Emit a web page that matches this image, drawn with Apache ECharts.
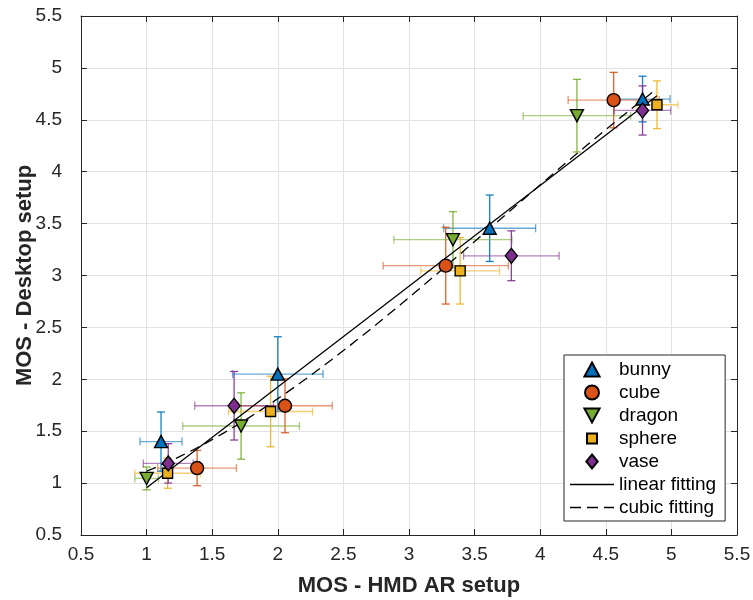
<!DOCTYPE html>
<html>
<head>
<meta charset="utf-8">
<script src="https://cdn.jsdelivr.net/npm/echarts@6/dist/echarts.min.js"></script>
<style>
  html, body { margin: 0; padding: 0; background: #fff; }
  #chart { width: 753px; height: 600px; }
</style>
</head>
<body>
<div id="chart"></div>
<script>
// Mean opinion scores per object: HMD AR setup (x) vs Desktop setup (y), with error half-widths
const objectNames = ['bunny', 'cube', 'dragon', 'sphere', 'vase'];

const bunnyHmd     = [1.11, 2.00, 3.615, 4.78];
const bunnyHmdErr  = [0.16, 0.345, 0.35, 0.21];
const bunnyDesk    = [1.40, 2.05, 3.455, 4.70];
const bunnyDeskErr = [0.285, 0.36, 0.32, 0.22];

const cubeHmd     = [1.385, 2.055, 3.28, 4.56];
const cubeHmdErr  = [0.30, 0.36, 0.477, 0.347];
const cubeDesk    = [1.145, 1.745, 3.095, 4.69];
const cubeDeskErr = [0.17, 0.26, 0.37, 0.267];

const dragonHmd     = [1.00, 1.72, 3.335, 4.28];
const dragonHmdErr  = [0.09, 0.445, 0.45, 0.41];
const dragonDesk    = [1.045, 1.55, 3.345, 4.54];
const dragonDeskErr = [0.11, 0.32, 0.27, 0.35];

const sphereHmd     = [1.16, 1.945, 3.39, 4.89];
const sphereHmdErr  = [0.25, 0.32, 0.30, 0.16];
const sphereDesk    = [1.095, 1.69, 3.045, 4.645];
const sphereDeskErr = [0.145, 0.34, 0.32, 0.23];

const vaseHmd     = [1.165, 1.667, 3.78, 4.78];
const vaseHmdErr  = [0.19, 0.30, 0.364, 0.215];
const vaseDesk    = [1.19, 1.745, 3.19, 4.59];
const vaseDeskErr = [0.19, 0.33, 0.24, 0.237];

const axisTicks = [0.5, 1, 1.5, 2, 2.5, 3, 3.5, 4, 4.5, 5, 5.5];

const groups = [
  { name: 'bunny',  x: bunnyHmd,  xe: bunnyHmdErr,  y: bunnyDesk,  ye: bunnyDeskErr },
  { name: 'cube',   x: cubeHmd,   xe: cubeHmdErr,   y: cubeDesk,   ye: cubeDeskErr },
  { name: 'dragon', x: dragonHmd, xe: dragonHmdErr, y: dragonDesk, ye: dragonDeskErr },
  { name: 'sphere', x: sphereHmd, xe: sphereHmdErr, y: sphereDesk, ye: sphereDeskErr },
  { name: 'vase',   x: vaseHmd,   xe: vaseHmdErr,   y: vaseDesk,   ye: vaseDeskErr }
];

// MATLAB-like default colour order
const colors = {
  bunny: '#0072BD', cube: '#D95319', dragon: '#77AC30', sphere: '#EDB120', vase: '#7E2F8E'
};
const downTriangle = 'path://M0,0L2,0L1,2Z';
const markers = {
  bunny:  { symbol: 'triangle', size: [13, 12] },
  cube:   { symbol: 'circle',   size: 13 },
  dragon: { symbol: downTriangle, size: [13, 12] },
  sphere: { symbol: 'rect',     size: 10 },
  vase:   { symbol: 'diamond',  size: [12, 15] }
};

// Legend glyphs as paths so they keep their proportions inside the wide icon box
const legendIcons = {
  bunny:  'path://M6.5,0L13,12L0,12Z',
  cube:   'circle',
  dragon: 'path://M0,0L13,0L6.5,12Z',
  sphere: 'path://M0,0M14,14M2,2L12,2L12,12L2,12Z',
  vase:   'path://M6.5,0L13,8L6.5,16L0,8Z',
  linear: 'path://M0,0L44,0L44,1.3L0,1.3Z',
  cubic:  'path://M0,0L11,0L11,1.3L0,1.3Z M17,0L28,0L28,1.3L17,1.3Z M34,0L44,0L44,1.3L34,1.3Z'
};

// Least-squares polynomial fit of all points (Desktop score on HMD score)
function polyfit(xs, ys, deg) {
  const n = deg + 1;
  const A = [], b = [];
  for (let i = 0; i < n; i++) {
    A.push(new Array(n).fill(0));
    b.push(0);
  }
  xs.forEach((x, k) => {
    for (let i = 0; i < n; i++) {
      for (let j = 0; j < n; j++) A[i][j] += Math.pow(x, i + j);
      b[i] += ys[k] * Math.pow(x, i);
    }
  });
  for (let c = 0; c < n; c++) {
    let p = c;
    for (let r = c + 1; r < n; r++) if (Math.abs(A[r][c]) > Math.abs(A[p][c])) p = r;
    [A[c], A[p]] = [A[p], A[c]];
    [b[c], b[p]] = [b[p], b[c]];
    for (let r = c + 1; r < n; r++) {
      const f = A[r][c] / A[c][c];
      for (let j = c; j < n; j++) A[r][j] -= f * A[c][j];
      b[r] -= f * b[c];
    }
  }
  const coef = new Array(n).fill(0);
  for (let r = n - 1; r >= 0; r--) {
    let s = b[r];
    for (let j = r + 1; j < n; j++) s -= A[r][j] * coef[j];
    coef[r] = s / A[r][r];
  }
  return coef;
}
function polyval(coef, x) {
  return coef.reduce((acc, c, i) => acc + c * Math.pow(x, i), 0);
}

const allX = [].concat(...groups.map(g => g.x));
const allY = [].concat(...groups.map(g => g.y));
const xMin = Math.min(...allX), xMax = Math.max(...allX);
const linCoef = polyfit(allX, allY, 1);
const cubCoef = polyfit(allX, allY, 3);
const linData = [[xMin, polyval(linCoef, xMin)], [xMax, polyval(linCoef, xMax)]];
const cubData = [];
for (let i = 0; i <= 80; i++) {
  const x = xMin + (xMax - xMin) * i / 80;
  cubData.push([x, polyval(cubCoef, x)]);
}

const axisColor = '#262626';
const font = 'Liberation Sans, Arial, Helvetica, sans-serif';

function errorBarRender(color) {
  return function (params, api) {
    const x = api.value(0), y = api.value(1), xe = api.value(2), ye = api.value(3);
    const l = api.coord([x - xe, y]), r = api.coord([x + xe, y]);
    const t = api.coord([x, y + ye]), btm = api.coord([x, y - ye]);
    const cap = 4;
    const hStyle = { stroke: color, lineWidth: 1.3, opacity: 0.6 };
    const vStyle = { stroke: color, lineWidth: 1.3, opacity: 0.9 };
    return {
      type: 'group',
      children: [
        { type: 'line', shape: { x1: l[0], y1: l[1], x2: r[0], y2: r[1] }, style: hStyle },
        { type: 'line', shape: { x1: l[0], y1: l[1] - cap, x2: l[0], y2: l[1] + cap }, style: hStyle },
        { type: 'line', shape: { x1: r[0], y1: r[1] - cap, x2: r[0], y2: r[1] + cap }, style: hStyle },
        { type: 'line', shape: { x1: t[0], y1: t[1], x2: btm[0], y2: btm[1] }, style: vStyle },
        { type: 'line', shape: { x1: t[0] - cap, y1: t[1], x2: t[0] + cap, y2: t[1] }, style: vStyle },
        { type: 'line', shape: { x1: btm[0] - cap, y1: btm[1], x2: btm[0] + cap, y2: btm[1] }, style: vStyle }
      ]
    };
  };
}

const series = [];
groups.forEach(g => {
  series.push({
    name: g.name + ' error',
    type: 'custom',
    renderItem: errorBarRender(colors[g.name]),
    data: g.x.map((x, i) => [x, g.y[i], g.xe[i], g.ye[i]]),
    encode: { x: 0, y: 1 },
    z: 2,
    silent: true
  });
});
series.push({
  name: 'linear fitting',
  type: 'line',
  data: linData,
  symbol: 'none',
  lineStyle: { color: '#000', width: 1.3, type: 'solid' },
  itemStyle: { color: '#000' },
  z: 3,
  silent: true
});
series.push({
  name: 'cubic fitting',
  type: 'line',
  data: cubData,
  symbol: 'none',
  lineStyle: { color: '#000', width: 1.3, type: [10, 6] },
  itemStyle: { color: '#000' },
  z: 3,
  silent: true
});
groups.forEach(g => {
  series.push({
    name: g.name,
    type: 'scatter',
    data: g.x.map((x, i) => [x, g.y[i]]),
    symbol: markers[g.name].symbol,
    symbolSize: markers[g.name].size,
    itemStyle: { color: colors[g.name], borderColor: '#000', borderWidth: 1.4, opacity: 1 },
    z: 4,
    silent: true
  });
});

const tickStyle = { show: true, inside: true, length: 6, lineStyle: { color: axisColor, width: 1 } };
const lineStyle = { show: true, onZero: false, lineStyle: { color: axisColor, width: 1 } };
const gridLine = { show: true, lineStyle: { color: '#e3e3e3', width: 1 } };

const option = {
  animation: false,
  backgroundColor: '#fff',
  textStyle: { fontFamily: font },
  grid: { left: 81, right: 16, top: 16, bottom: 65, containLabel: false, outerBoundsMode: 'none' },
  xAxis: [
    {
      type: 'value', min: axisTicks[0], max: axisTicks[axisTicks.length - 1], interval: 0.5,
      name: 'MOS - HMD AR setup', nameLocation: 'middle', nameGap: 40, nameMoveOverlap: false,
      nameTextStyle: { fontSize: 22, fontWeight: 'bold', color: axisColor, fontFamily: font },
      axisLine: lineStyle, axisTick: tickStyle, splitLine: gridLine,
      axisLabel: { fontSize: 19, color: axisColor, margin: 10, fontFamily: font }
    },
    {
      type: 'value', position: 'top', min: axisTicks[0], max: axisTicks[axisTicks.length - 1], interval: 0.5,
      axisLine: lineStyle, axisTick: tickStyle, splitLine: { show: false }, axisLabel: { show: false }
    }
  ],
  yAxis: [
    {
      type: 'value', min: axisTicks[0], max: axisTicks[axisTicks.length - 1], interval: 0.5,
      name: 'MOS - Desktop setup', nameLocation: 'middle', nameGap: 45, nameMoveOverlap: false,
      nameTextStyle: { fontSize: 22, fontWeight: 'bold', color: axisColor, fontFamily: font },
      axisLine: lineStyle, axisTick: tickStyle, splitLine: gridLine,
      axisLabel: { fontSize: 19, color: axisColor, margin: 19, fontFamily: font }
    },
    {
      type: 'value', position: 'right', min: axisTicks[0], max: axisTicks[axisTicks.length - 1], interval: 0.5,
      axisLine: lineStyle, axisTick: tickStyle, splitLine: { show: false }, axisLabel: { show: false }
    }
  ],
  legend: {
    orient: 'vertical',
    left: 564,
    top: 355,
    backgroundColor: '#fff',
    borderColor: axisColor,
    borderWidth: 1,
    borderRadius: 0,
    padding: [5, 9, 4, 6],
    itemWidth: 44,
    itemHeight: 14,
    itemGap: 4,
    itemTextGap: 6,
    symbolKeepAspect: true,
    selectedMode: false,
    textStyle: { fontSize: 19, color: '#000', fontFamily: font },
    data: [
      { name: 'bunny', icon: legendIcons.bunny },
      { name: 'cube', icon: legendIcons.cube },
      { name: 'dragon', icon: legendIcons.dragon },
      { name: 'sphere', icon: legendIcons.sphere },
      { name: 'vase', icon: legendIcons.vase },
      { name: 'linear fitting', icon: legendIcons.linear, itemStyle: { color: '#000', borderWidth: 0 } },
      { name: 'cubic fitting', icon: legendIcons.cubic, itemStyle: { color: '#000', borderWidth: 0 } }
    ]
  },
  series: series
};

const chart = echarts.init(document.getElementById('chart'), null, { renderer: 'canvas' });
chart.setOption(option);
</script>
</body>
</html>
